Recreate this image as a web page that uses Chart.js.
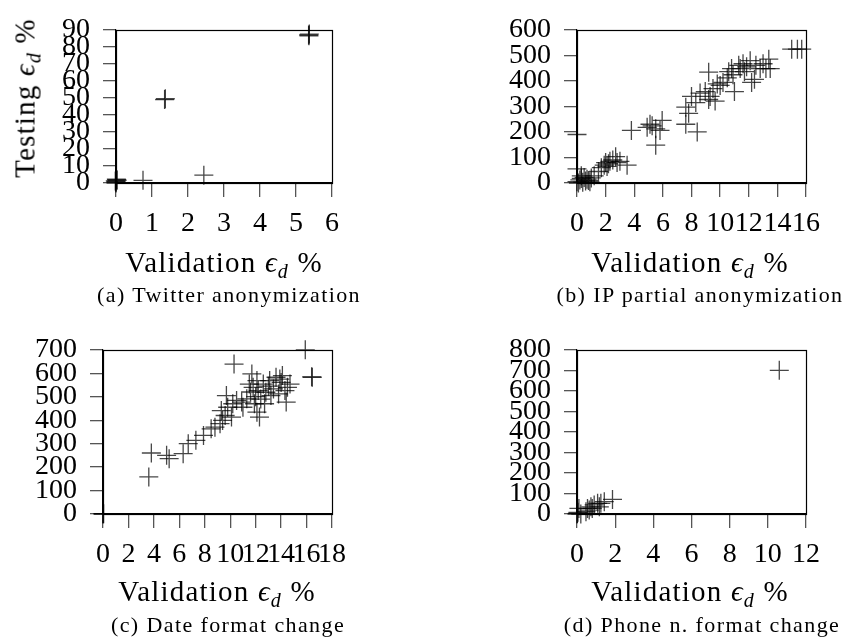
<!DOCTYPE html>
<html>
<head>
<meta charset="utf-8">
<script src="https://cdn.jsdelivr.net/npm/chart.js@4.4.0/dist/chart.umd.min.js"></script>
<style>
  body { margin: 0; background: #fff; }
  #page { position: relative; width: 848px; height: 639px; overflow: hidden; font-family: "Liberation Serif", serif; color: #000; }
  canvas { position: absolute; }
  .lbl { position: absolute; white-space: nowrap; transform: translate(-50%, -50%); }
  .axis { font-size: 29px; letter-spacing: 1.2px; }
  .cap { font-size: 22px; letter-spacing: 1.4px; }
  .axis sub { font-size: 20px; vertical-align: -6px; line-height: 0; }
  .rot { transform: translate(-50%, -50%) rotate(-90deg); }
</style>
</head>
<body>
<div id="page">
  <canvas id="twitter" width="424" height="320" style="left:0;top:0"></canvas>
  <canvas id="ip" width="424" height="320" style="left:424px;top:0"></canvas>
  <canvas id="date" width="424" height="320" style="left:0;top:320px"></canvas>
  <canvas id="phone" width="424" height="320" style="left:424px;top:320px"></canvas>

  <div class="lbl axis rot" style="left:25px;top:98px">Testing <i>ϵ</i><sub><i>d</i></sub> %</div>

  <div class="lbl axis" style="left:224px;top:262px">Validation <i>ϵ</i><sub><i>d</i></sub> %</div>
  <div class="lbl axis" style="left:690px;top:262px">Validation <i>ϵ</i><sub><i>d</i></sub> %</div>
  <div class="lbl axis" style="left:217px;top:591px">Validation <i>ϵ</i><sub><i>d</i></sub> %</div>
  <div class="lbl axis" style="left:690px;top:591px">Validation <i>ϵ</i><sub><i>d</i></sub> %</div>

  <div class="lbl cap" style="left:229px;top:295px">(a) Twitter anonymization</div>
  <div class="lbl cap" style="left:700px;top:295px">(b) IP partial anonymization</div>
  <div class="lbl cap" style="left:228px;top:625px">(c) Date format change</div>
  <div class="lbl cap" style="left:702px;top:625px">(d) Phone n. format change</div>
</div>
<script>
// validation vs testing error, one pair of arrays per experiment
const twitterVal = [0, 0, 0.02, 0.03, 0, -0.02, 0.01, 0.75, 2.44, 1.35, 1.37, 5.35, 5.37, 5.36];
const twitterTest = [0, 1, 2, 1.6, 0.5, 1.2, 2.3, 1.6, 4.6, 49, 49.5, 87, 87.5, 86.5];

const ipVal = [0, 0, 0, 0.1, 0.2, 0.3, 0.4, 0.5, 0.6, 0.7, 0.8, 1.0, 1.2, 0.3, 0.9,
  1.5, 1.7, 1.9, 2.0, 2.1, 2.2, 2.3, 2.5, 2.7, 2.8, 3.0, 3.5,
  3.8, 4.9, 5.1, 5.25, 5.5, 5.8, 5.95, 5.5,
  7.6, 8.4, 7.6, 7.8, 8.0, 8.3, 9.2, 8.6, 8.96, 9.3, 9.5, 9.8, 9.2, 9.65, 10.0, 10.2,
  10.5, 10.9, 11.0, 11.4, 11.6, 11.85, 12.1, 12.2, 12.4, 12.5, 12.8, 13.0, 13.2, 13.4,
  13.5, 11.3, 11.7, 10.6, 10.8, 15.0, 15.4, 15.7];
const ipTest = [190, 55, 5, 0, 12, 18, 3, 22, 8, 15, 10, 20, 28, 28, 5,
  45, 60, 70, 80, 65, 75, 85, 90, 103, 80, 85, 70,
  206, 218, 230, 224, 212, 206, 245, 148,
  230, 200, 297, 273, 339, 315, 434, 352, 358, 339, 370, 388, 327, 321, 382, 394,
  412, 424, 358, 448, 467, 455, 479, 394, 406, 461, 448, 467, 448, 485,
  448, 461, 436, 436, 448, 524, 524, 524];

const dateVal = [0, 0, 0.05, 3.6, 3.8, 5.0, 5.2, 6.3, 6.7, 7.3, 7.9, 8.5, 8.8, 9.2, 9.4,
  9.6, 9.3, 9.8, 9.7, 10.1, 10.2, 10.5, 10.9, 11.3, 11.0, 10.3, 11.7, 11.5, 11.8,
  12.1, 12.2, 11.9, 12.1, 12.3, 12.6, 12.8, 13.1, 13.4, 13.6, 13.8, 14.0, 14.1, 14.3,
  14.5, 14.7, 14.4, 13.2, 12.7, 11.6, 12.0, 13.0, 13.9, 12.4, 15.9, 16.4, 16.45];
const dateTest = [0, 2, 1, 158, 260, 250, 236, 257, 300, 314, 335, 363, 370, 385, 399,
  420, 441, 455, 505, 413, 470, 484, 477, 491, 455, 639, 597, 554, 540,
  569, 526, 470, 434, 413, 554, 519, 569, 533, 583, 512, 561, 590, 526,
  540, 554, 477, 505, 470, 520, 500, 545, 575, 490, 700, 585, 583];

const phoneVal = [0, 0.02, 0.05, 0.2, 0.1, 0.47, 0.55, 0.64, 0.73, 0.8, 0.9, 1.08, 1.17, 1.25, 1.43, 1.86, 10.6];
const phoneTest = [0, 3, 8, 0, 27, 11, 27, 19, 35, 27, 44, 52, 35, 52, 60, 71, 700];

// plot frame inside each canvas: left, top, right, bottom
const boxes = {
  twitter: [116, 18, 332, 183],
  ip: [153, 18, 382, 183],
  date: [103, 29, 332, 194],
  phone: [153, 29, 382, 194],
};

const tickFont = { family: 'Liberation Serif', size: 28 };

// closes the frame on the top and right sides
const framePlugin = {
  id: 'frame',
  beforeDatasetsDraw(chart) {
    const { left, top, right, bottom } = chart.chartArea;
    const ctx = chart.ctx;
    ctx.save();
    ctx.strokeStyle = '#000';
    ctx.lineWidth = 1.2;
    ctx.strokeRect(Math.round(left) + 0.5, Math.round(top) + 0.5,
      Math.round(right - left), Math.round(bottom - top));
    ctx.restore();
  },
};

function makeChart(id, xs, ys, xMax, xStep, yMax, yStep) {
  const [L, T, R, B] = boxes[id];
  const canvas = document.getElementById(id);
  const points = xs.map((x, i) => ({ x, y: ys[i] }));
  const axisGrid = { drawOnChartArea: false, drawTicks: true, color: '#555', lineWidth: 1.3 };

  return new Chart(canvas, {
    type: 'scatter',
    data: {
      datasets: [{
        data: points,
        pointStyle: 'cross',
        pointRadius: 9.5,
        pointHoverRadius: 9.5,
        borderColor: 'rgba(0,0,0,0.72)',
        backgroundColor: 'rgba(0,0,0,0.72)',
        pointBorderWidth: 1.3,
        clip: false,
      }],
    },
    options: {
      responsive: false,
      animation: false,
      events: [],
      layout: { padding: { left: 0, top: T, right: canvas.width - R, bottom: 0 } },
      plugins: { legend: { display: false }, tooltip: { enabled: false } },
      scales: {
        x: {
          type: 'linear',
          min: 0,
          max: xMax,
          grid: { ...axisGrid, tickLength: 14 },
          border: { display: true, color: '#000', width: 1.2 },
          ticks: { stepSize: xStep, autoSkip: false, maxRotation: 0, minRotation: 0,
            font: tickFont, color: '#000', padding: 10 },
          afterFit: (s) => { s.height = canvas.height - B; },
        },
        y: {
          type: 'linear',
          min: 0,
          max: yMax,
          grid: { ...axisGrid, tickLength: 13 },
          border: { display: true, color: '#000', width: 1.2 },
          ticks: { stepSize: yStep, autoSkip: false, font: tickFont, color: '#000', padding: 13 },
          afterFit: (s) => { s.width = L; },
        },
      },
    },
    plugins: [framePlugin],
  });
}

makeChart('twitter', twitterVal, twitterTest, 6, 1, 90, 10);
makeChart('ip', ipVal, ipTest, 16, 2, 600, 100);
makeChart('date', dateVal, dateTest, 18, 2, 700, 100);
makeChart('phone', phoneVal, phoneTest, 12, 2, 800, 100);
</script>
</body>
</html>
